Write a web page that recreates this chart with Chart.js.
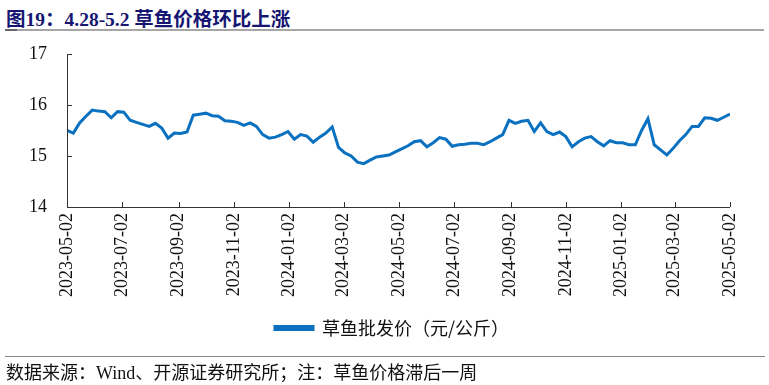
<!DOCTYPE html>
<html>
<head>
<meta charset="utf-8">
<script src="https://cdn.jsdelivr.net/npm/chart.js@4/dist/chart.umd.min.js"></script>
<style>
  html,body{margin:0;padding:0;background:#fff;}
  #wrap{position:relative;width:769px;height:385px;overflow:hidden;}
  #title{position:absolute;left:6px;top:3px;font-family:"Liberation Serif","Noto Sans CJK SC",serif;font-weight:bold;font-size:19.5px;color:#161672;white-space:nowrap;}
  #tline{position:absolute;left:5px;top:29px;width:759px;height:2px;background:#a6a6a6;}
  #tline2{position:absolute;left:5px;top:29px;width:12px;height:2px;background:#666;}
  #fline{position:absolute;left:5px;top:356px;width:760px;height:1px;background:#888;}
  #foot{position:absolute;left:6px;top:358px;font-family:"Liberation Serif","Noto Sans CJK SC",serif;font-size:18px;color:#111;white-space:nowrap;}
  #c{position:absolute;left:0;top:0;}
</style>
</head>
<body>
<div id="wrap">
  <div id="title">图19：4.28-5.2 草鱼价格环比上涨</div>
  <div id="tline"></div><div id="tline2"></div>
  <canvas id="c" width="769" height="385"></canvas>
  <div id="fline"></div>
  <div id="foot">数据来源：Wind、开源证券研究所；注：草鱼价格滞后一周</div>
</div>
<script>
const seriesName = '草鱼批发价（元/公斤）';
const startDate = '2023-05-02';
const endDate = '2025-05-02';
const tickLabels = ['2023-05-02','2023-07-02','2023-09-02','2023-11-02','2024-01-02','2024-03-02','2024-05-02','2024-07-02','2024-09-02','2024-11-02','2025-01-02','2025-03-02','2025-05-02'];
const prices = [15.50,15.45,15.65,15.78,15.90,15.88,15.87,15.75,15.87,15.86,
  15.70,15.66,15.62,15.58,15.64,15.55,15.35,15.45,15.44,15.47,
  15.80,15.82,15.84,15.79,15.78,15.69,15.68,15.66,15.60,15.65,
  15.58,15.42,15.35,15.37,15.42,15.48,15.33,15.42,15.39,15.27,
  15.37,15.45,15.57,15.17,15.06,15.00,14.88,14.85,14.92,14.98,
  15.00,15.02,15.08,15.14,15.20,15.28,15.30,15.18,15.26,15.36,
  15.33,15.19,15.22,15.23,15.25,15.25,15.22,15.28,15.35,15.42,
  15.70,15.64,15.68,15.70,15.48,15.65,15.48,15.42,15.47,15.38,
  15.18,15.28,15.35,15.38,15.28,15.20,15.30,15.26,15.26,15.22,
  15.22,15.50,15.73,15.22,15.12,15.02,15.15,15.30,15.42,15.58,
  15.58,15.75,15.74,15.70,15.76,15.82];

const DAY = 86400000;
const t0 = Date.parse(startDate), t1 = Date.parse(endDate);
const n = prices.length;
const points = prices.map((v,i)=>({x: (t0 + (t1-t0)*i/(n-1))/DAY, y: v}));
const tickVals = tickLabels.map(s=>Date.parse(s)/DAY);
const labelFor = {};
tickVals.forEach((v,i)=>labelFor[v]=tickLabels[i]);

const innerTicks = {
  id:'innerTicks',
  afterLayout(chart){
    if(chart.legend){chart.legend.left += 27; chart.legend.right += 27;}
  },
  afterDraw(chart){
    const {ctx, chartArea:a, scales:{x,y}} = chart;
    ctx.save();
    ctx.strokeStyle='#333';ctx.lineWidth=1;
    ctx.beginPath();
    ctx.moveTo(a.left+0.5,a.top);ctx.lineTo(a.left+0.5,a.bottom+0.5);ctx.lineTo(a.right,a.bottom+0.5);
    y.ticks.forEach(t=>{const py=Math.round(y.getPixelForValue(t.value))+0.5;ctx.moveTo(a.left,py);ctx.lineTo(a.left+5,py);});
    x.ticks.forEach(t=>{const px=Math.round(x.getPixelForValue(t.value))+0.5;ctx.moveTo(px,a.bottom);ctx.lineTo(px,a.bottom-5);});
    ctx.stroke();
    ctx.restore();
  }
};

new Chart(document.getElementById('c'),{
  type:'line',
  data:{datasets:[{label:seriesName,data:points,borderColor:'#0a70c0',backgroundColor:'#0a70c0',borderWidth:3,pointRadius:0,tension:0}]},
  options:{
    responsive:false,animation:false,
    layout:{padding:{left:0,right:39,top:54,bottom:38}},
    scales:{
      x:{type:'linear',min:tickVals[0],max:tickVals[tickVals.length-1],
        afterBuildTicks(s){s.ticks=tickVals.map(v=>({value:v}));},
        afterFit(s){s.height=106;},
        grid:{display:false,drawTicks:false},border:{display:false},
        ticks:{autoSkip:false,minRotation:90,maxRotation:90,padding:6,color:'#111',
          font:{family:'Liberation Serif',size:18},
          callback:(v)=>labelFor[v]||''}},
      y:{min:14,max:17,
        afterFit(s){s.width=67;},
        grid:{display:false,drawTicks:false},border:{display:false},
        ticks:{stepSize:1,padding:20,color:'#111',font:{family:'Liberation Serif',size:18}}}
    },
    plugins:{
      legend:{position:'bottom',labels:{boxWidth:38,boxHeight:3,color:'#111',padding:6,
        font:{family:'Noto Sans CJK SC',size:18}}},
      tooltip:{enabled:false}
    }
  },
  plugins:[innerTicks]
});
</script>
</body>
</html>
